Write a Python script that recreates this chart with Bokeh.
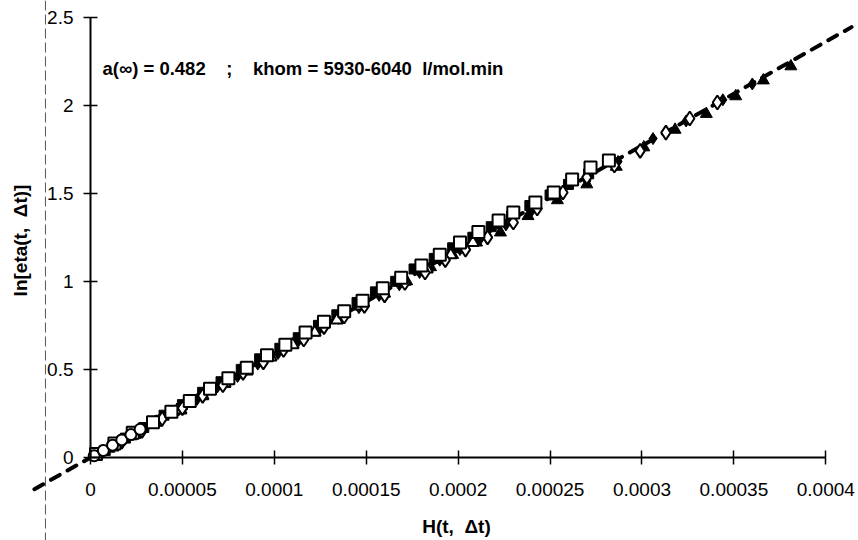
from math import pi

from bokeh.plotting import figure
from bokeh.models import Range1d, FixedTicker, NumeralTickFormatter, Label, Span
from bokeh.embed import file_html
from bokeh.resources import INLINE

# --- measured series: H(t, dt) vs ln[eta(t, dt)] ---
sq_open_x = [0.000003, 0.000013, 0.000023, 0.000034, 0.000044, 0.000054, 0.000065,
             0.000075, 0.000085, 0.000096, 0.000106, 0.000117, 0.000127, 0.000138,
             0.000148, 0.000159, 0.000169, 0.000180, 0.000190, 0.000201, 0.000211,
             0.000222, 0.000230, 0.000242, 0.000252, 0.000262, 0.000272, 0.000282]
sq_open_y = [0.02, 0.08, 0.14, 0.20, 0.26, 0.32, 0.39, 0.45, 0.51, 0.58, 0.64, 0.71,
             0.77, 0.83, 0.89, 0.96, 1.02, 1.09, 1.15, 1.22, 1.28, 1.345, 1.39, 1.447,
             1.504, 1.578, 1.646, 1.686]

sq_fill_x = [0.000008, 0.000019, 0.000029, 0.000040, 0.000050, 0.000061, 0.000071,
             0.000082, 0.000092, 0.000103, 0.000113, 0.000124, 0.000134, 0.000145,
             0.000155, 0.000166, 0.000176, 0.000187, 0.000197, 0.000208, 0.000218,
             0.000229, 0.000239, 0.000250, 0.000260, 0.000271]
sq_fill_y = [0.04, 0.11, 0.17, 0.24, 0.30, 0.37, 0.43, 0.50, 0.56, 0.62, 0.68, 0.75,
             0.81, 0.88, 0.94, 1.00, 1.07, 1.13, 1.19, 1.25, 1.31, 1.37, 1.43, 1.49,
             1.55, 1.61]

dia_open_x = [0.000006, 0.000017, 0.000028, 0.000039, 0.000050, 0.000061, 0.000072,
              0.000083, 0.000094, 0.000105, 0.000116, 0.000127, 0.000138, 0.000149,
              0.000160, 0.000171, 0.000182, 0.000193, 0.000204, 0.000216, 0.000230,
              0.000243, 0.000257, 0.000270, 0.000285, 0.000299, 0.000313, 0.000326,
              0.000341]
dia_open_y = [0.03, 0.09, 0.15, 0.22, 0.28, 0.35, 0.41, 0.48, 0.54, 0.61, 0.67, 0.74,
              0.80, 0.86, 0.92, 0.99, 1.05, 1.12, 1.18, 1.249, 1.334, 1.413, 1.504,
              1.59, 1.657, 1.74, 1.844, 1.924, 2.015]

tri_fill_x = [0.000010, 0.000022, 0.000035, 0.000047, 0.000060, 0.000072, 0.000085,
              0.000097, 0.000110, 0.000122, 0.000135, 0.000147, 0.000160, 0.000172,
              0.000185, 0.000197, 0.000210, 0.000223, 0.000238, 0.000254, 0.000270,
              0.000286, 0.000301, 0.000318, 0.000335, 0.000351, 0.000366, 0.000381]
tri_fill_y = [0.05, 0.12, 0.20, 0.27, 0.35, 0.42, 0.49, 0.57, 0.64, 0.71, 0.78, 0.86,
              0.93, 1.00, 1.08, 1.15, 1.22, 1.277, 1.37, 1.46, 1.55, 1.65, 1.76, 1.86,
              1.95, 2.05, 2.14, 2.22]

dia_fill_x = [0.000004, 0.000015, 0.000026, 0.000037, 0.000048, 0.000058, 0.000069,
              0.000080, 0.000091, 0.000102, 0.000113, 0.000124, 0.000135, 0.000146,
              0.000157, 0.000168, 0.000179, 0.000190, 0.000201, 0.000212, 0.000226,
              0.000240, 0.000255, 0.000270, 0.000287, 0.000306, 0.000324, 0.000344,
              0.000360]
dia_fill_y = [0.02, 0.08, 0.14, 0.21, 0.27, 0.33, 0.40, 0.46, 0.53, 0.59, 0.66, 0.72,
              0.79, 0.85, 0.92, 0.98, 1.05, 1.12, 1.18, 1.24, 1.32, 1.40, 1.49, 1.57,
              1.68, 1.81, 1.91, 2.03, 2.12]

tri_open_x = [0.000012, 0.000024, 0.000036, 0.000049, 0.000061, 0.000073, 0.000085,
              0.000098, 0.000110, 0.000122, 0.000134, 0.000147, 0.000159, 0.000171,
              0.000183, 0.000196, 0.000208]
tri_open_y = [0.06, 0.13, 0.20, 0.27, 0.35, 0.42, 0.49, 0.57, 0.64, 0.71, 0.78, 0.86,
              0.93, 1.00, 1.07, 1.15, 1.22]

circ_open_x = [0.000002, 0.000007, 0.000012, 0.000017, 0.000022, 0.000027]
circ_open_y = [0.01, 0.04, 0.07, 0.10, 0.13, 0.16]

# straight-line fit through the origin
fit_slope = 5900.0
fit_x = [-0.0000305, 0.000414]
fit_y = [fit_slope * v for v in fit_x]

x_ticks = [0, 0.00005, 0.0001, 0.00015, 0.0002, 0.00025, 0.0003, 0.00035, 0.0004]
y_ticks = [0, 0.5, 1, 1.5, 2, 2.5]

FONT = "Liberation Sans"
NB = "\u00a0"

p = figure(width=858, height=540, output_backend="svg", toolbar_location=None,
           x_range=Range1d(-0.00004896, 0.00041778),
           y_range=Range1d(-0.4711, 2.5937),
           min_border=0)
p.outline_line_color = None
p.grid.visible = False
p.background_fill_color = "white"

for ax in (p.xaxis[0], p.yaxis[0]):
    ax.fixed_location = 0
    ax.axis_line_width = 2
    ax.axis_line_color = "black"
    ax.major_tick_line_width = 1.5
    ax.major_tick_line_color = "black"
    ax.major_tick_in = 7
    ax.major_tick_out = 7
    ax.minor_tick_line_color = None
    ax.major_label_text_font = FONT
    ax.major_label_text_font_size = "19px"
    ax.major_label_text_color = "black"
    ax.axis_label = None

p.xaxis.bounds = (0, 0.0004)
p.yaxis.bounds = (0, 2.5)
p.xaxis.ticker = FixedTicker(ticks=x_ticks)
p.yaxis.ticker = FixedTicker(ticks=y_ticks)
p.xaxis.formatter = NumeralTickFormatter(format="0.[00000]")
p.yaxis.formatter = NumeralTickFormatter(format="0.[0]")
p.xaxis.major_label_standoff = 19
p.yaxis.major_label_standoff = 10

# fold line on the page
p.add_layout(Span(location=-0.0000245, dimension="height", line_color="#555555",
                  line_width=1, line_dash="10 4"))

# fit line
p.line(fit_x, fit_y, line_color="black", line_width=4, line_dash="10 9",
       line_cap="round")

# data series
p.scatter(tri_fill_x, tri_fill_y, marker="triangle", size=12, fill_color="black",
          line_color="black")
p.scatter(sq_fill_x, sq_fill_y, marker="square", size=10, fill_color="black",
          line_color="black")
p.scatter(dia_fill_x, dia_fill_y, marker="diamond", size=12, fill_color="black",
          line_color="black")
p.scatter(tri_open_x, tri_open_y, marker="triangle", size=12, fill_color="white",
          line_color="black", line_width=2)
p.scatter(dia_open_x, dia_open_y, marker="diamond", size=14, fill_color="white",
          line_color="black", line_width=2)
p.scatter(sq_open_x, sq_open_y, marker="square", size=12, fill_color="white",
          line_color="black", line_width=2)
p.scatter(circ_open_x, circ_open_y, marker="circle", size=11, fill_color="white",
          line_color="black", line_width=2)

# axis titles and annotation
p.add_layout(Label(x=456, y=14, x_units="screen", y_units="screen",
                   text="H(t," + NB * 2 + "\u0394t)", text_align="center",
                   text_baseline="middle", text_font=FONT, text_font_style="bold",
                   text_font_size="19px", text_color="black"))
p.add_layout(Label(x=20, y=300, x_units="screen", y_units="screen",
                   text="ln[eta(t," + NB * 2 + "\u0394t)]", text_align="center",
                   text_baseline="middle", angle=pi / 2, text_font=FONT,
                   text_font_style="bold", text_font_size="19px", text_color="black"))
p.add_layout(Label(x=102, y=472, x_units="screen", y_units="screen",
                   text="a(\u221e)" + NB + "=" + NB + "0.482" + NB * 4 + ";" + NB * 4
                        + "khom" + NB + "=" + NB + "5930-6040" + NB * 2 + "l/mol.min",
                   text_align="left", text_baseline="middle", text_font=FONT,
                   text_font_style="bold", text_font_size="18.5px", text_color="black"))

open("out.html", "w").write(file_html(p, INLINE))
